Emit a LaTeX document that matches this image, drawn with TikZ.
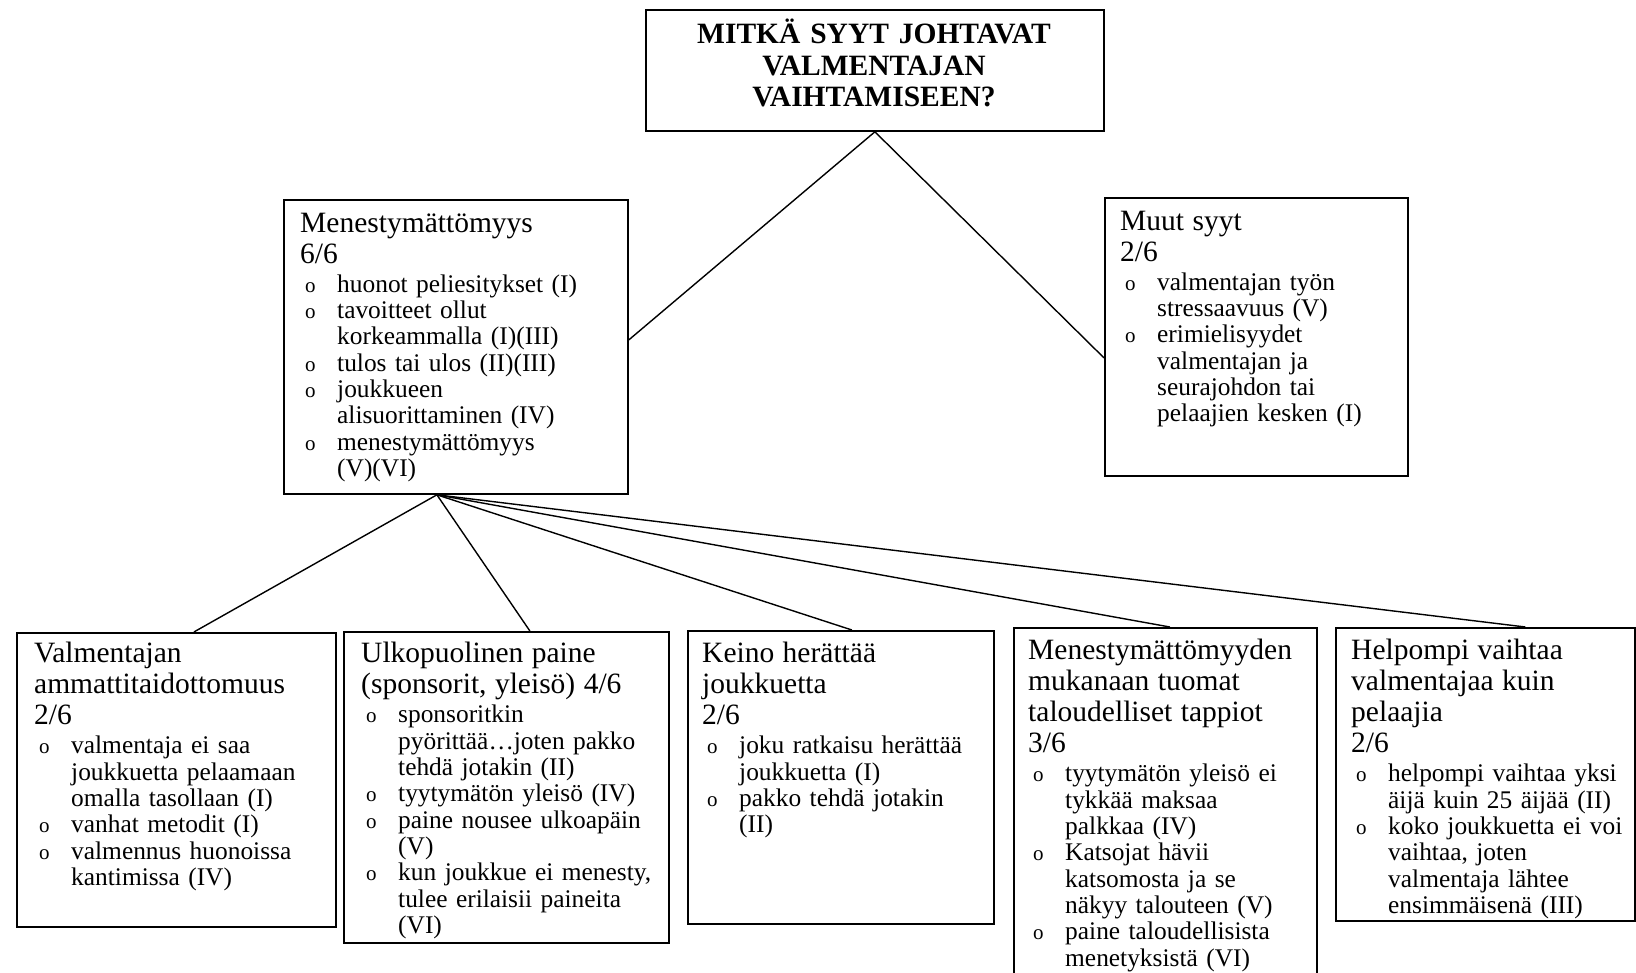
\documentclass[tikz,border=0pt]{standalone}
\usepackage{fontspec}
\setmainfont{Liberation Serif}
\newcommand{\hd}{\fontsize{29.5}{31}\selectfont}
\newcommand{\bl}{\fontsize{25.4}{26.3}\selectfont}
\newcommand{\bul}[1]{\par\noindent\hangindent=37pt\hangafter=1\makebox[37pt][l]{\hspace{5pt}{\fontsize{21}{21}\selectfont o}}#1\par}
\newcommand{\head}[1]{{\hd\noindent\strut #1\par}\vspace{2.7pt}}
\tikzset{
  box/.style={draw=black, line width=1.8pt, inner sep=0pt, anchor=north west},
  txt/.style={anchor=north west, inner sep=0pt, text width=#1, font=\bl, align=left},
  link/.style={draw=black, line width=1.4pt},
}
\begin{document}
\begin{tikzpicture}[x=1pt,y=-1pt]
\useasboundingbox (0,0) rectangle (1636,972);
\fill[white] (0,0) rectangle (1636,972);
\clip (0,0) rectangle (1636,972);

% top question
\node[box, minimum width=458pt, minimum height=121pt] (top) at (645,9) {};
\node[anchor=north, inner sep=0pt, text width=440pt, align=center,
      font=\bfseries\fontsize{29.5}{31.5}\selectfont] (toptxt) at (874,19)
  {\strut MITKÄ SYYT JOHTAVAT\\VALMENTAJAN\\VAIHTAMISEEN?};

% second level
\node[box, minimum width=344pt, minimum height=294pt] (m) at (283,199) {};
\node[txt=325pt] (mtxt) at (300,210.3) {%
  \head{Menestymättömyys\newline 6/6}%
  \bul{huonot peliesitykset (I)}%
  \bul{tavoitteet ollut\newline korkeammalla (I)(III)}%
  \bul{tulos tai ulos (II)(III)}%
  \bul{joukkueen\newline alisuorittaminen (IV)}%
  \bul{menestymättömyys\newline (V)(VI)}};

\node[box, minimum width=303pt, minimum height=278pt] (muut) at (1104,197) {};
\node[txt=280pt] (muuttxt) at (1120,208.3) {%
  \head{Muut syyt\newline 2/6}%
  \bul{valmentajan työn\newline stressaavuus (V)}%
  \bul{erimielisyydet\newline valmentajan ja\newline seurajohdon tai\newline pelaajien kesken (I)}};

% third level
\node[box, minimum width=319pt, minimum height=294pt] (b1) at (16,632) {};
\node[txt=300pt] (t1) at (34,641) {%
  \head{Valmentajan\newline ammattitaidottomuus\newline 2/6}%
  \bul{valmentaja ei saa\newline joukkuetta pelaamaan\newline omalla tasollaan (I)}%
  \bul{vanhat metodit (I)}%
  \bul{valmennus huonoissa\newline kantimissa (IV)}};

\node[box, minimum width=325pt, minimum height=311pt] (b2) at (343,631) {};
\node[txt=305pt] (t2) at (361,641) {%
  \head{Ulkopuolinen paine\newline (sponsorit, yleisö) 4/6}%
  \bul{sponsoritkin\newline pyörittää…joten pakko\newline tehdä jotakin (II)}%
  \bul{tyytymätön yleisö (IV)}%
  \bul{paine nousee ulkoapäin\newline (V)}%
  \bul{kun joukkue ei menesty,\newline tulee erilaisii paineita\newline (VI)}};

\node[box, minimum width=306pt, minimum height=293pt] (b3) at (687,630) {};
\node[txt=290pt] (t3) at (702,641) {%
  \head{Keino herättää\newline joukkuetta\newline 2/6}%
  \bul{joku ratkaisu herättää\newline joukkuetta (I)}%
  \bul{pakko tehdä jotakin\newline (II)}};

\node[box, minimum width=303pt, minimum height=370pt] (b4) at (1013,627) {};
\node[txt=287pt] (t4) at (1028,638) {%
  \head{Menestymättömyyden\newline mukanaan tuomat\newline taloudelliset tappiot\newline 3/6}%
  \bul{tyytymätön yleisö ei\newline tykkää maksaa\newline palkkaa (IV)}%
  \bul{Katsojat hävii\newline katsomosta ja se\newline näkyy talouteen (V)}%
  \bul{paine taloudellisista\newline menetyksistä (VI)}};

\node[box, minimum width=299pt, minimum height=293pt] (b5) at (1335,627) {};
\node[txt=283pt] (t5) at (1351,638) {%
  \head{Helpompi vaihtaa\newline valmentajaa kuin\newline pelaajia\newline 2/6}%
  \bul{helpompi vaihtaa yksi\newline äijä kuin 25 äijää (II)}%
  \bul{koko joukkuetta ei voi\newline vaihtaa, joten\newline valmentaja lähtee\newline ensimmäisenä (III)}};

% connectors
\draw[link] (top.south) -- ([yshift=7pt]m.east);
\draw[link] (top.south) -- ([yshift=-21pt]muut.west);
\coordinate (hub) at ([xshift=-19pt]m.south);
\draw[link] (hub) -- ([xshift=17.5pt]b1.north);
\draw[link] (hub) -- ([xshift=23.5pt]b2.north);
\draw[link] (hub) -- ([xshift=11pt]b3.north);
\draw[link] (hub) -- ([xshift=4.5pt]b4.north);
\draw[link] (hub) -- ([xshift=40pt]b5.north);
\end{tikzpicture}
\end{document}
